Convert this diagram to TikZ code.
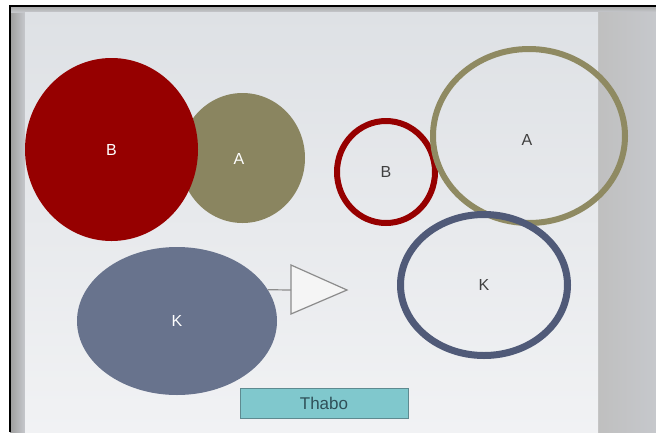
\documentclass[tikz,border=0pt]{standalone}
\usepackage{fontspec}
\setmainfont{Liberation Sans}
\usetikzlibrary{shapes.geometric}

\definecolor{darkred}{HTML}{960000}
\definecolor{olive}{HTML}{8A8560}
\definecolor{slate}{HTML}{68738D}
\definecolor{slatering}{HTML}{505A78}
\definecolor{oliverim}{HTML}{8F8A62}
\definecolor{tealbox}{HTML}{80C8CD}
\definecolor{tealedge}{HTML}{5E8A90}
\definecolor{tealtext}{HTML}{2F5058}
\definecolor{slidetop}{HTML}{DEE1E5}
\definecolor{slidebottom}{HTML}{F1F2F4}
\definecolor{sidegray}{HTML}{C6C8CC}

\tikzset{
  blob/.style={ellipse, inner sep=0pt, text=white, font=\fontsize{16}{19}\selectfont},
  rim/.style={ellipse, inner sep=0pt, line width=6pt, text=black!75, font=\fontsize{16}{19}\selectfont},
  tri/.style={draw=black!45, fill=white!96!black, line width=1.2pt, line join=miter},
}

\begin{document}
\begin{tikzpicture}[x=1pt,y=-1pt]

  % page and slide
  \useasboundingbox (0,0) rectangle (656,432);
  \fill[white] (0,0) rectangle (656,432);
  \shade[left color=black!38, right color=sidegray] (10,6) rectangle (25,432);
  \shade[top color=black!35, bottom color=sidegray] (10,6) rectangle (656,12);
  \shade[left color=black!25, right color=sidegray] (598,12) rectangle (656,432);
  \shade[top color=slidetop, bottom color=slidebottom] (25,12) rectangle (598,432);
  \draw[line width=1.5pt] (10,432) -- (10,6) -- (656,6);

  % filled shapes
  \node[blob, fill=olive, minimum width=125, minimum height=130] (oliveA) at (242.5,158) {};
  \node[blob, fill=darkred, minimum width=173, minimum height=183] (redB) at (111.5,149.5) {B};
  \node[text=white, font=\fontsize{16}{19}\selectfont] (labelA) at (239,159) {A};
  \node[blob, fill=slate, minimum width=200, minimum height=148] (slateK) at (177,321) {K};

  % rings
  \node[rim, draw=darkred, minimum width=98, minimum height=102] (ringB) at (386,172) {B};
  \node[rim, draw=oliverim, minimum width=192, minimum height=174] (ringA) at (529,136) {};
  \node[text=black!75, font=\fontsize{16}{19}\selectfont] (labelRingA) at (527,140) {A};
  \node[rim, draw=slatering, line width=7pt, minimum width=167, minimum height=141] (ringK) at (484,285) {K};

  % triangle
  \coordinate (triBase) at (291,290);
  \draw[tri] (291,265) -- (347,290) -- (291,314) -- cycle;
  \draw[black!45, line width=1.2pt] (slateK.19) -- (triBase);

  % caption box
  \node[draw=tealedge, fill=tealbox, line width=1pt, minimum width=168, minimum height=30, inner sep=0pt,
        text=tealtext, font=\fontsize{17}{20}\selectfont] (thabo) at (324,403) {Thabo};

\end{tikzpicture}
\end{document}
